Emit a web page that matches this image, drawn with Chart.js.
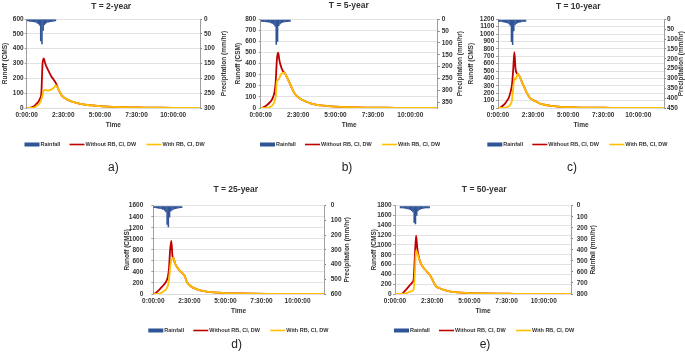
<!DOCTYPE html>
<html>
<head>
<meta charset="utf-8">
<script src="https://cdn.jsdelivr.net/npm/chart.js@4.4.1/dist/chart.umd.min.js"></script>
<style>
  html, body { margin: 0; padding: 0; background: #fff; }
  body { width: 685px; height: 362px; position: relative; overflow: hidden; }
  canvas { position: absolute; }
</style>
</head>
<body>
<script>
// Runoff hydrographs, with and without RB/CI/DW, for five return periods

// --- Data ---
// runoff sample times (minutes)
const timeMin = [0, 10, 20, 30, 40, 45, 50, 55, 60, 65, 70, 75, 80, 85, 90, 95, 100, 110, 120, 130,
                 140, 150, 165, 180, 200, 220, 240, 270, 300, 360, 420, 480, 540, 600, 710];
// rainfall bar centres (minutes, 5-min blocks)
const rainTime = [2.5, 7.5, 12.5, 17.5, 22.5, 27.5, 32.5, 37.5, 42.5, 47.5, 52.5, 57.5, 62.5, 67.5, 72.5,
                  77.5, 82.5, 87.5, 92.5, 97.5, 102.5, 107.5, 112.5, 117.5, 122.5, 127.5, 132.5, 137.5, 142.5];
const xTickLabels = ['0:00:00', '2:30:00', '5:00:00', '7:30:00', '10:00:00'];
const seriesLabels = ['Rainfall', 'Without RB, CI, DW', 'With RB, CI, DW'];

const rain2 = [8, 8, 9, 9, 10, 10, 11, 12, 14, 17, 22, 75, 85, 40, 20, 16, 13, 12, 11, 10, 9, 9, 8, 8, 0, 0, 0, 0, 0];
const without2 = [0, 1, 4, 12, 28, 36, 48, 65, 100, 300, 335, 305, 282, 265, 248, 232, 216, 192, 166, 125,
                  92, 74, 58, 46, 37, 27, 22, 17, 12, 7, 4, 3, 2, 1, 1];
const with2 = [0, 0, 0, 2, 14, 20, 27, 38, 58, 90, 120, 122, 120, 118, 118, 120, 124, 135, 152, 125,
               92, 74, 58, 46, 37, 27, 22, 17, 12, 7, 4, 3, 2, 1, 1];

const rain5 = [10, 10, 11, 11, 12, 13, 14, 15, 17, 19, 23, 30, 108, 95, 28, 21, 17, 15, 13, 12, 11, 11, 10, 10, 0, 0, 0, 0, 0];
const without5 = [0, 5, 18, 36, 60, 75, 100, 140, 230, 440, 500, 430, 385, 352, 328, 320, 300, 255, 205, 155,
                  120, 98, 75, 60, 42, 31, 24, 17, 12, 7, 4, 3, 2, 1, 1];
const with5 = [0, 0, 0, 3, 12, 20, 35, 55, 100, 240, 252, 270, 300, 310, 316, 320, 300, 255, 205, 155,
               120, 98, 75, 60, 42, 31, 24, 17, 12, 7, 4, 3, 2, 1, 1];

const rain10 = [12, 12, 13, 14, 15, 16, 17, 19, 21, 25, 33, 115, 130, 60, 30, 24, 20, 18, 16, 15, 14, 13, 12, 12, 0, 0, 0, 0, 0];
const without10 = [0, 5, 30, 60, 105, 130, 175, 235, 320, 520, 755, 530, 470, 462, 440, 410, 370, 298, 225, 165,
                   126, 107, 84, 60, 44, 33, 25, 16, 11, 6, 4, 3, 2, 1, 1];
const with10 = [0, 0, 0, 3, 12, 20, 35, 58, 110, 270, 400, 385, 425, 460, 440, 410, 370, 298, 225, 165,
                126, 107, 84, 60, 44, 33, 25, 16, 11, 6, 4, 3, 2, 1, 1];

const rain25 = [16, 16, 17, 18, 20, 21, 23, 25, 28, 34, 44, 130, 147, 80, 40, 32, 27, 24, 22, 20, 18, 17, 16, 16, 0, 0, 0, 0, 0];
const without25 = [0, 18, 55, 100, 150, 175, 200, 240, 300, 450, 800, 960, 680, 645, 560, 515, 480, 425, 378, 330,
                   215, 163, 115, 88, 60, 45, 34, 24, 16, 9, 5, 3, 2, 1, 1];
const with25 = [0, 0, 2, 12, 40, 55, 72, 95, 140, 240, 480, 610, 655, 645, 560, 515, 480, 425, 378, 330,
                215, 163, 115, 88, 60, 45, 34, 24, 16, 9, 5, 3, 2, 1, 1];

const rain50 = [0, 0, 0, 0, 22, 22, 24, 25, 27, 29, 32, 35, 40, 47, 60, 155, 169, 90, 50, 40, 35, 31, 28, 26, 24, 23, 22, 22, 0];
const without50 = [0, 0, 0, 10, 65, 90, 120, 150, 180, 205, 240, 300, 750, 1190, 930, 780, 680, 570, 505, 448,
                   392, 300, 160, 117, 78, 55, 40, 27, 18, 10, 6, 4, 2, 1, 1];
const with50 = [0, 0, 0, 0, 8, 15, 25, 35, 45, 55, 65, 90, 400, 896, 830, 750, 680, 570, 505, 448,
                392, 300, 160, 117, 78, 55, 40, 27, 18, 10, 6, 4, 2, 1, 1];

// --- Styles ---
const FONT = '"Liberation Sans", Arial, sans-serif';
const TEXT = '#333333';
const RAIN_COLOR = '#2F5597';
const RED = '#C00000';
const YELLOW = '#FFC000';
const GRID = '#D9D9D9';
const AXIS = '#7F7F7F';
const X_AXIS_H = 12;
const LEGEND_OFFS = [0, 45, 122];

// --- Panels (page coordinates) ---
const panels = [
  { box: { x: 0, y: 0, w: 230, h: 176 }, plot: { L: 26.7, T: 19, R: 200, B: 108 },
    title: 'T = 2-year', titleX: 111.2, titleY: 6.5,
    leftTitle: 'Runoff (CMS)', leftTitleX: 5, rightTitle: 'Precipitation (mm/hr)', rightTitleX: 224,
    leftMax: 600, leftStep: 100, rightMax: 300, rightStep: 50, leftPad: 1, rightPad: 2,
    rain: rain2, without: without2, withRB: with2,
    legendX: 24.5, sub: 'a)', subX: 113.3, subY: 168 },
  { box: { x: 230, y: 0, w: 234, h: 176 }, plot: { L: 260.7, T: 19.3, R: 437.7, B: 108 },
    title: 'T = 5-year', titleX: 348.8, titleY: 6,
    leftTitle: 'Runoff (CSM)', leftTitleX: 238, rightTitle: 'Precipitation (mm/hr)', rightTitleX: 460,
    leftMax: 800, leftStep: 100, rightMax: 375, rightStep: 50, leftPad: 2.7, rightPad: 2,
    rain: rain5, without: without5, withRB: with5,
    legendX: 260, sub: 'b)', subX: 347, subY: 168 },
  { box: { x: 464, y: 0, w: 221, h: 176 }, plot: { L: 498, T: 19.3, R: 664, B: 108 },
    title: 'T = 10-year', titleX: 578.3, titleY: 6.5,
    leftTitle: 'Runoff (CMS)', leftTitleX: 471.7, rightTitle: 'Precipitation (mm/hr)', rightTitleX: 681.5,
    leftMax: 1200, leftStep: 100, rightMax: 450, rightStep: 50, leftPad: 1.7, rightPad: 1,
    rain: rain10, without: without10, withRB: with10,
    legendX: 487.3, sub: 'c)', subX: 572, subY: 168 },
  { box: { x: 115, y: 176, w: 240, h: 186 }, plot: { L: 153.3, T: 205.7, R: 324, B: 294 },
    title: 'T = 25-year', titleX: 235.8, titleY: 190,
    leftTitle: 'Runoff (CMS)', leftTitleX: 127, rightTitle: 'Precipitation (mm/hr)', rightTitleX: 347.7,
    leftMax: 1600, leftStep: 200, rightMax: 600, rightStep: 100, leftPad: 8, rightPad: 4.7,
    rain: rain25, without: without25, withRB: with25,
    legendX: 148.3, sub: 'd)', subX: 236.7, subY: 345 },
  { box: { x: 355, y: 176, w: 250, h: 186 }, plot: { L: 395, T: 205.7, R: 571, B: 294 },
    title: 'T = 50-year', titleX: 484.2, titleY: 190,
    leftTitle: 'Runoff (CMS)', leftTitleX: 374, rightTitle: 'Rainfall (mm/hr)', rightTitleX: 593.3,
    leftMax: 1800, leftStep: 200, rightMax: 800, rightStep: 100, leftPad: 1.3, rightPad: 3.7,
    rain: rain50, without: without50, withRB: with50,
    legendX: 394, sub: 'e)', subX: 485, subY: 345 }
];

// --- Plugin: titles, rotated axis titles, legend, panel letter ---
function decorPlugin(cfg) {
  return {
    id: 'decor',
    afterDraw(chart) {
      const ctx = chart.ctx;
      const a = chart.chartArea;
      const ox = cfg.box.x, oy = cfg.box.y;
      ctx.save();
      ctx.fillStyle = TEXT;
      ctx.textAlign = 'center';
      ctx.textBaseline = 'middle';

      ctx.font = 'bold 8.5px ' + FONT;
      ctx.fillText(cfg.title, cfg.titleX - ox, cfg.titleY - oy);

      ctx.font = 'bold 6.5px ' + FONT;
      ctx.fillText('Time', (a.left + a.right) / 2, a.bottom + 17.5);

      const cy = (a.top + a.bottom) / 2;
      [[cfg.leftTitle, cfg.leftTitleX], [cfg.rightTitle, cfg.rightTitleX]].forEach(function (t) {
        ctx.save();
        ctx.translate(t[1] - ox, cy);
        ctx.rotate(-Math.PI / 2);
        ctx.fillText(t[0], 0, 0);
        ctx.restore();
      });

      // legend
      const ly = a.bottom + 36.5;
      ctx.font = 'bold 5.5px ' + FONT;
      ctx.textAlign = 'left';
      chart.data.datasets.forEach(function (ds, i) {
        const sx = cfg.legendX - ox + LEGEND_OFFS[i];
        if (ds.type === 'bar') {
          ctx.fillStyle = ds.backgroundColor;
          ctx.fillRect(sx, ly - 2, 15, 4);
        } else {
          ctx.strokeStyle = ds.borderColor;
          ctx.lineWidth = 1.6;
          ctx.beginPath();
          ctx.moveTo(sx, ly);
          ctx.lineTo(sx + 15, ly);
          ctx.stroke();
        }
        ctx.fillStyle = TEXT;
        ctx.fillText(ds.label, sx + 16, ly + 0.3);
      });

      ctx.font = '12px ' + FONT;
      ctx.textAlign = 'center';
      ctx.fillStyle = '#222';
      ctx.fillText(cfg.sub, cfg.subX - ox, cfg.subY - oy);
      ctx.restore();
    }
  };
}

function makeChart(cfg) {
  const b = cfg.box, p = cfg.plot;
  const canvas = document.createElement('canvas');
  canvas.width = b.w;
  canvas.height = b.h;
  canvas.style.left = b.x + 'px';
  canvas.style.top = b.y + 'px';
  canvas.style.width = b.w + 'px';
  canvas.style.height = b.h + 'px';
  document.body.appendChild(canvas);

  const tickFont = { family: FONT, size: 6.5, weight: 'bold' };

  new Chart(canvas.getContext('2d'), {
    type: 'line',
    data: {
      datasets: [
        {
          type: 'bar',
          label: seriesLabels[0],
          data: rainTime.map((t, i) => ({ x: t, y: cfg.rain[i] })),
          xAxisID: 'x',
          yAxisID: 'y1',
          backgroundColor: RAIN_COLOR,
          borderWidth: 0,
          barPercentage: 1.3,
          categoryPercentage: 1,
          grouped: false,
          order: 3
        },
        {
          label: seriesLabels[1],
          data: timeMin.map((t, i) => ({ x: t, y: cfg.without[i] })),
          yAxisID: 'y',
          borderColor: RED,
          borderWidth: 1.8,
          pointRadius: 0,
          cubicInterpolationMode: 'monotone',
          fill: false,
          order: 2
        },
        {
          label: seriesLabels[2],
          data: timeMin.map((t, i) => ({ x: t, y: cfg.withRB[i] })),
          yAxisID: 'y',
          borderColor: YELLOW,
          borderWidth: 1.8,
          pointRadius: 0,
          cubicInterpolationMode: 'monotone',
          fill: false,
          order: 1
        }
      ]
    },
    options: {
      responsive: false,
      animation: false,
      devicePixelRatio: 1,
      layout: {
        padding: { top: p.T - b.y, bottom: b.y + b.h - p.B - X_AXIS_H, left: 0, right: 0 }
      },
      plugins: {
        legend: { display: false },
        title: { display: false },
        tooltip: { enabled: false }
      },
      scales: {
        x: {
          type: 'linear',
          min: 0,
          max: 710,
          offset: false,
          afterFit: function (s) { s.height = X_AXIS_H; },
          grid: { display: false, drawTicks: false, offset: false },
          border: { display: true, color: GRID, width: 0.75 },
          ticks: {
            stepSize: 150,
            includeBounds: false,
            autoSkip: false,
            maxRotation: 0,
            padding: 3,
            color: TEXT,
            font: tickFont,
            callback: function (v) { return xTickLabels[Math.round(v / 150)]; }
          }
        },
        y: {
          type: 'linear',
          position: 'left',
          min: 0,
          max: cfg.leftMax,
          afterFit: function (s) { s.width = p.L - b.x; },
          grid: { color: GRID, lineWidth: 0.75, tickLength: 2, tickColor: AXIS },
          border: { display: true, color: AXIS, width: 0.75 },
          ticks: { stepSize: cfg.leftStep, autoSkip: false, padding: cfg.leftPad, color: TEXT, font: tickFont,
                   callback: function (v) { return String(v); } }
        },
        y1: {
          type: 'linear',
          position: 'right',
          reverse: true,
          min: 0,
          max: cfg.rightMax,
          afterFit: function (s) { s.width = b.x + b.w - p.R; },
          grid: { drawOnChartArea: false, tickLength: 2, tickColor: AXIS },
          border: { display: true, color: AXIS, width: 0.75 },
          ticks: { stepSize: cfg.rightStep, includeBounds: false, autoSkip: false, padding: cfg.rightPad, color: TEXT, font: tickFont,
                   callback: function (v) { return String(v); } }
        }
      }
    },
    plugins: [decorPlugin(cfg)]
  });
}

panels.forEach(makeChart);
</script>
</body>
</html>
